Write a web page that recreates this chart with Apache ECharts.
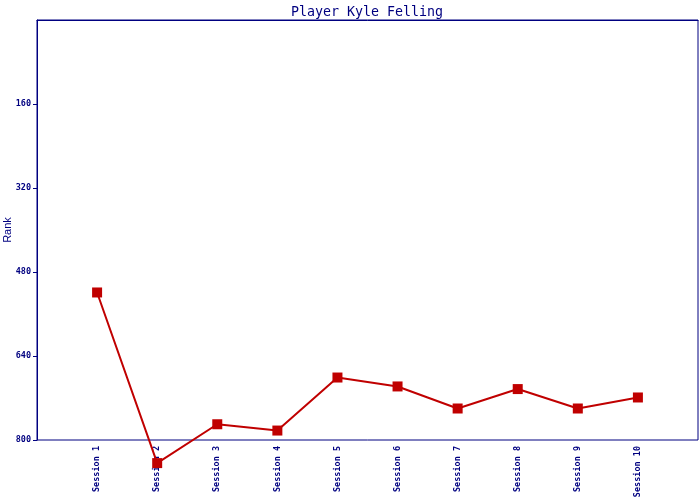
<!DOCTYPE html>
<html>
<head>
<meta charset="utf-8">
<script src="https://cdn.jsdelivr.net/npm/echarts@6/dist/echarts.min.js"></script>
<style>html,body{margin:0;padding:0;background:#fff}#c{width:700px;height:500px}</style>
</head>
<body>
<div id="c"></div>
<script>
var categories = ['Session 1','Session 2','Session 3','Session 4','Session 5','Session 6','Session 7','Session 8','Session 9','Session 10'];
var rankValues = [519, 844, 770, 782, 681, 698, 740, 703, 740, 719];
var yTicks = [160, 320, 480, 640, 800];

var navy = '#000080';
var xCats = [''].concat(categories).concat(['']);
var yData = [null].concat(rankValues).concat([null]);

var chart = echarts.init(document.getElementById('c'));
chart.setOption({
  animation: false,
  title: {
    text: 'Player Kyle Felling',
    left: 362, top: 1, textAlign: 'center',
    textStyle: { color: navy, fontFamily: 'DejaVu Sans Mono', fontSize: 13.3, fontWeight: 'normal' }
  },
  grid: { left: 37, right: 2, top: 20, bottom: 60, show: true, borderColor: navy, borderWidth: 1,
    backgroundColor: 'transparent', containLabel: false, outerBoundsMode: 'none' },
  xAxis: {
    type: 'category', data: xCats, boundaryGap: false,
    axisLine: { lineStyle: { color: navy, width: 1 } },
    axisTick: { show: false },
    splitLine: { show: false },
    axisLabel: { rotate: 90, interval: 0, color: navy, fontFamily: 'DejaVu Sans Mono', fontSize: 8.5, fontWeight: 'bold', margin: 6 }
  },
  yAxis: {
    type: 'value', inverse: true, min: 0, max: 800, interval: 160,
    name: 'Rank', nameLocation: 'middle', nameGap: 24, nameMoveOverlap: false,
    nameTextStyle: { color: navy, fontFamily: 'Liberation Sans', fontSize: 11 },
    axisLine: { show: true, lineStyle: { color: navy, width: 1 } },
    axisTick: { show: true, length: 4, lineStyle: { color: navy }, customValues: yTicks },
    splitLine: { show: false },
    axisLabel: { color: navy, fontFamily: 'DejaVu Sans Mono', fontSize: 8.5, fontWeight: 'bold', margin: 6, customValues: yTicks }
  },
  series: [{
    type: 'line', data: yData, clip: false,
    symbol: 'rect', symbolSize: 10,
    lineStyle: { color: '#c00000', width: 2 },
    itemStyle: { color: '#c00000' }
  }]
});
</script>
</body>
</html>
